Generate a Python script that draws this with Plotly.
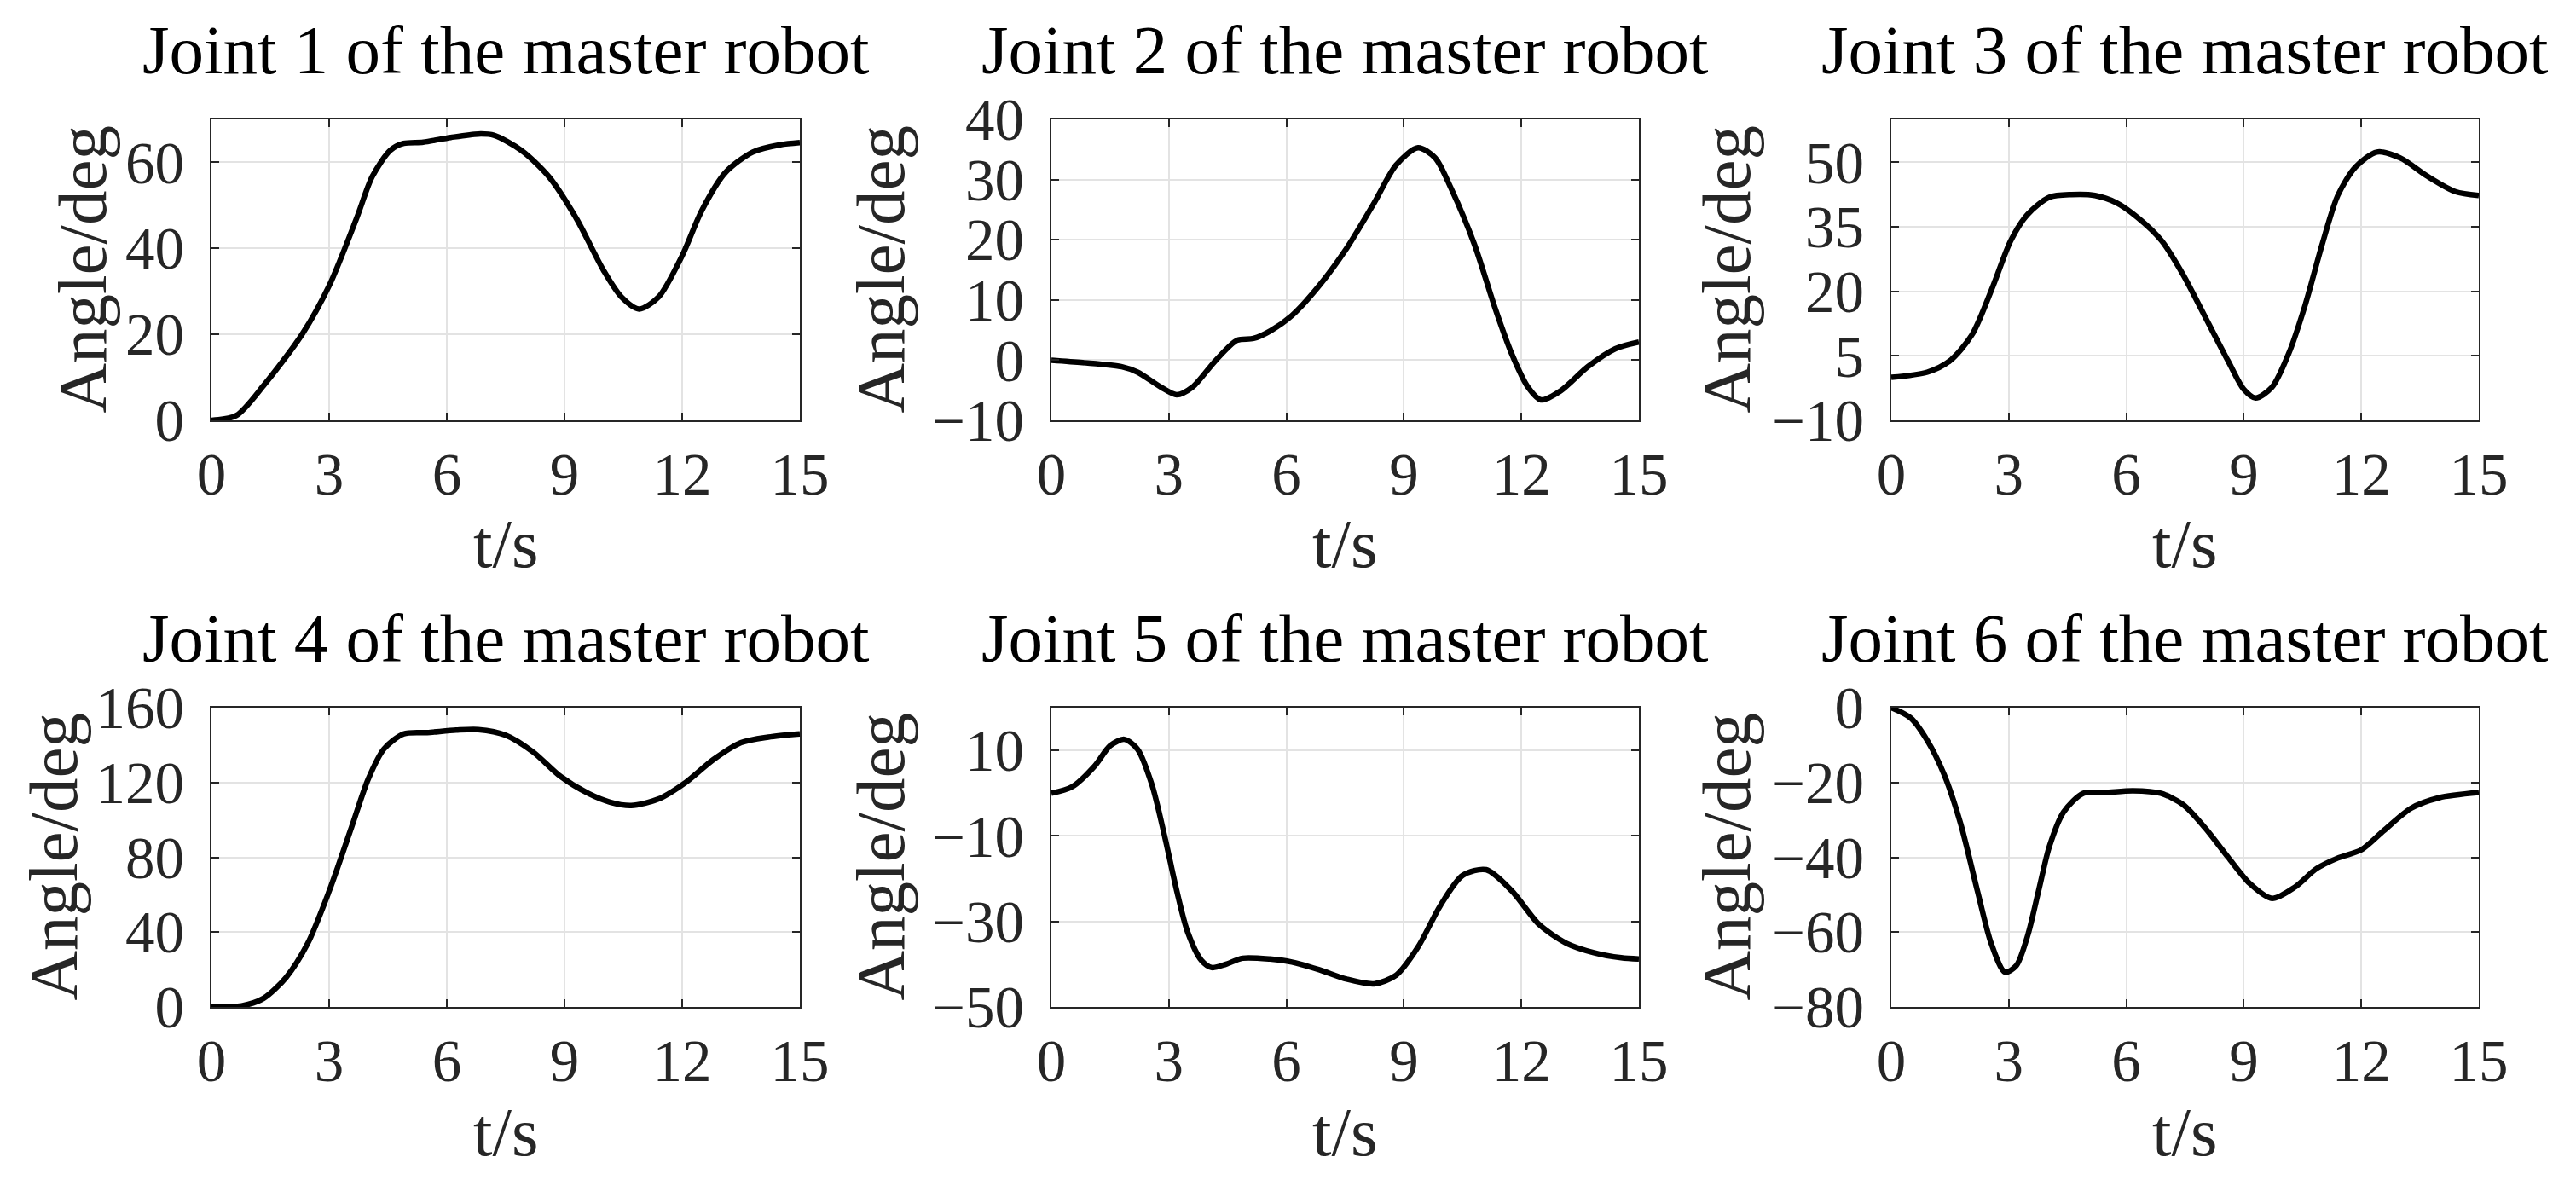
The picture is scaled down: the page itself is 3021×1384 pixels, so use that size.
import plotly.graph_objects as go

W, H = 3021, 1384

# ---------------- data ----------------
t1 = [0, 0.63, 1.33, 2.31, 3.0, 3.7, 4.1, 4.56, 4.9, 5.4, 6.1, 6.8, 7.2, 7.9, 8.6, 9.3, 10.0, 10.45, 10.9, 11.4, 12.0, 12.5, 13.1, 13.8, 14.5, 15]
q1 = [0, 1.1, 8.1, 20, 31.3, 47, 56.7, 62.8, 64.4, 64.7, 65.8, 66.6, 66.3, 62.8, 56.7, 47, 34.8, 28.7, 25.9, 28.7, 38.3, 48.8, 57.6, 62.4, 64.1, 64.6]

t2 = [0, 0.8, 1.8, 2.2, 2.8, 3.2, 3.6, 4.2, 4.74, 5.16, 5.6, 6.14, 6.84, 7.54, 8.24, 8.8, 9.36, 9.8, 10.2, 10.8, 11.33, 11.75, 12.17, 12.5, 13.0, 13.7, 14.4, 15]
q2 = [0, -0.4, -1.1, -2.0, -4.5, -5.75, -4.5, 0, 3.3, 3.6, 4.9, 7.4, 12.4, 18.6, 26.1, 32.4, 35.3, 33.6, 28.6, 19.25, 8.6, 1.1, -4.5, -6.6, -5.1, -1.06, 1.9, 3.0]

t3 = [0, 0.92, 1.49, 2.06, 2.6, 3.05, 3.48, 4.04, 4.6, 5.2, 5.75, 6.3, 6.9, 7.45, 8.0, 8.6, 9.0, 9.3, 9.72, 10.15, 10.57, 11.0, 11.4, 11.85, 12.4, 13.0, 13.7, 14.4, 15]
q3 = [0, 1.2, 3.8, 9.9, 21.3, 31.8, 37.9, 41.9, 42.5, 42.3, 40.6, 37.1, 31.8, 23.9, 14.3, 3.8, -2.8, -4.8, -2.3, 5.6, 16.9, 30.9, 42.3, 48.9, 52.4, 51, 46.7, 43.2, 42.3]

t4 = [0, 0.77, 1.33, 1.9, 2.45, 3.0, 3.57, 4.0, 4.4, 4.9, 5.5, 6.24, 6.8, 7.5, 8.2, 8.9, 9.6, 10.16, 10.7, 11.4, 12.1, 12.8, 13.5, 14.2, 15]
q4 = [0, 0.6, 4.6, 15.7, 33.8, 61.9, 96, 122, 138, 146, 146.7, 148, 148.3, 145.3, 136.3, 123.2, 114.2, 109.5, 107.7, 111.2, 120.2, 132.3, 141.3, 144.3, 146]

t5 = [0, 0.53, 1.1, 1.5, 1.86, 2.2, 2.57, 2.9, 3.2, 3.48, 3.83, 4.1, 4.46, 4.88, 5.58, 6.14, 6.84, 7.54, 8.24, 8.8, 9.36, 9.93, 10.5, 11.1, 11.75, 12.45, 13.15, 13.85, 14.55, 15]
q5 = [0, 1.5, 6.3, 11.1, 12.6, 10.3, 1.9, -10.4, -22.8, -32.5, -39.1, -40.8, -40, -38.6, -38.8, -39.5, -41.3, -43.5, -44.6, -42.6, -36, -26.3, -19.25, -17.9, -22.8, -30.7, -35.1, -37.3, -38.5, -38.8]

t6 = [0, 0.5, 0.92, 1.35, 1.77, 2.2, 2.55, 2.9, 3.19, 3.48, 3.76, 4.04, 4.4, 4.9, 5.46, 6.17, 6.88, 7.45, 8.0, 8.6, 9.15, 9.72, 10.3, 10.86, 11.4, 12.0, 12.56, 13.27, 13.98, 15]
q6 = [0, -2.8, -8.8, -17.9, -31, -49, -63, -70.7, -69, -61, -49, -37, -27.9, -22.9, -22.7, -22.2, -22.9, -25.9, -32, -40, -47, -51, -48, -43, -40.2, -38, -33, -26.9, -24.1, -22.7]

series_t = [t1, t2, t3, t4, t5, t6]
series_q = [q1, q2, q3, q4, q5, q6]
titles = ["Joint %d of the master robot" % i for i in range(1, 7)]
x_ticks = [0, 3, 6, 9, 12, 15]
y_ranges = [[0, 70], [-10, 40], [-10, 60], [0, 160], [-50, 20], [-80, 0]]
y_ticks = [[0, 20, 40, 60], [-10, 0, 10, 20, 30, 40], [-10, 5, 20, 35, 50],
           [0, 40, 80, 120, 160], [-50, -30, -10, 10], [-80, -60, -40, -20, 0]]
x_label = "t/s"
y_label = "Angle/deg"

# ---------------- layout geometry (pixels) ----------------
col_px = [(248, 938), (1233, 1922), (2218, 2907)]
row_px = [(140, 493), (830, 1181)]
ylab_px = [96, 1032, 2024, 62, 1032, 2024]
xlab_px_y = [638, 1328]

FONT = "Liberation Serif"
AX = "#262626"

fig = go.Figure()
layout = dict(
    template="none",
    width=W, height=H, margin=dict(l=0, r=0, t=0, b=0, pad=0, autoexpand=False),
    paper_bgcolor="white", plot_bgcolor="white", showlegend=False,
    font=dict(family=FONT, color=AX, size=69),
)
annotations = []
for i in range(6):
    r, c = divmod(i, 3)
    xs = "" if i == 0 else str(i + 1)
    x0, x1 = col_px[c]
    yt, yb = row_px[r]
    xd = [x0 / W, x1 / W]
    yd = [1 - yb / H, 1 - yt / H]
    fig.add_trace(go.Scatter(x=series_t[i], y=series_q[i], mode="lines",
                             line=dict(color="black", width=6.5, shape="spline", smoothing=0.8),
                             xaxis="x" + xs, yaxis="y" + xs, hoverinfo="skip"))
    common = dict(showline=True, linecolor=AX, linewidth=2.2, mirror="ticks",
                  ticks="inside", ticklen=9, tickwidth=2, tickcolor=AX, automargin=False,
                  showgrid=True, gridcolor="#e3e3e3", gridwidth=1.5, zeroline=False,
                  tickfont=dict(family=FONT, size=69, color=AX))
    layout["xaxis" + xs] = dict(domain=xd, anchor="y" + xs, range=[0, 15],
                                tickmode="array", tickvals=x_ticks, ticklabelstandoff=2, **common)
    layout["yaxis" + xs] = dict(domain=yd, anchor="x" + xs, range=y_ranges[i],
                                tickmode="array", tickvals=y_ticks[i], ticklabelstandoff=16, **common)
    cx = (xd[0] + xd[1]) / 2
    annotations.append(dict(text=titles[i], x=cx, y=yd[1], xref="paper", yref="paper",
                            xanchor="center", yanchor="bottom", yshift=34, showarrow=False,
                            font=dict(family=FONT, size=81, color="black")))
    annotations.append(dict(text=y_label, x=ylab_px[i] / W, y=(yd[0] + yd[1]) / 2,
                            xref="paper", yref="paper", xanchor="center", yanchor="middle",
                            textangle=-90, showarrow=False,
                            font=dict(family=FONT, size=81, color=AX)))
    annotations.append(dict(text=x_label, x=cx, y=1 - xlab_px_y[r] / H, xref="paper", yref="paper",
                            xanchor="center", yanchor="middle", showarrow=False,
                            font=dict(family=FONT, size=81, color=AX)))
layout["annotations"] = annotations
fig.update_layout(**layout)

fig.write_html("out.html", config={"displayModeBar": False},
               post_script="document.body.style.margin='0';document.body.style.overflow='hidden';")
